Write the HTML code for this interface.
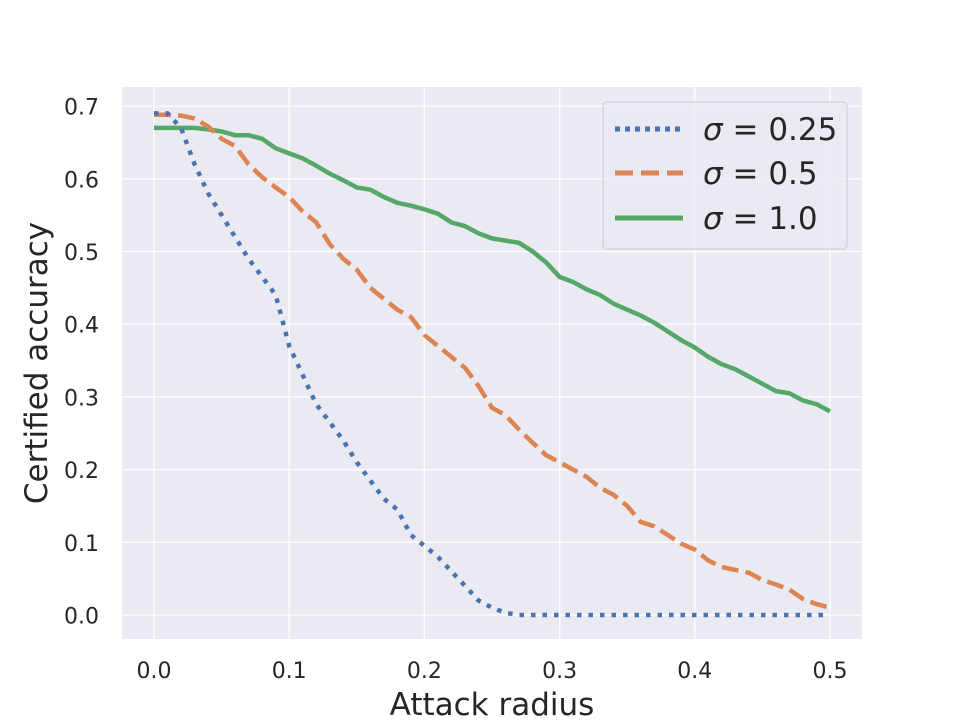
<!DOCTYPE html>
<html><head><meta charset="utf-8"><style>
body{margin:0;background:#fff;}
svg{display:block;font-family:"DejaVu Sans","Liberation Sans",sans-serif;}
</style></head><body>
<svg id="chart" width="960" height="720">
<rect x="122" y="87" width="740" height="552" fill="#eaeaf2"/>
<g id="grid"></g><g id="ticks"></g><g id="series"></g>
<text x="492" y="715" font-size="31" text-anchor="middle" fill="#262626">Attack radius</text>
<text transform="translate(47,363) rotate(-90)" font-size="31" text-anchor="middle" fill="#262626">Certified accuracy</text>
<g>
<rect x="603" y="102" width="244" height="147" rx="4" fill="#eaeaf2" fill-opacity="0.8" stroke="#cccccc"/>
<line x1="615" y1="129" x2="683" y2="129" stroke="#4c72b0" stroke-width="5" stroke-dasharray="5,5"/>
<text x="703" y="140" font-size="31" fill="#262626"><tspan font-style="italic">σ</tspan> = 0.25</text>
<line x1="615" y1="173" x2="683" y2="173" stroke="#dd8452" stroke-width="5" stroke-dasharray="18,8"/>
<text x="703" y="184" font-size="31" fill="#262626"><tspan font-style="italic">σ</tspan> = 0.5</text>
<line x1="615" y1="218" x2="683" y2="218" stroke="#55a868" stroke-width="5"/>
<text x="703" y="229" font-size="31" fill="#262626"><tspan font-style="italic">σ</tspan> = 1.0</text>
</g>
</svg>
<script>
const xTicks=[0,0.1,0.2,0.3,0.4,0.5];
const yTicks=[0,0.1,0.2,0.3,0.4,0.5,0.6,0.7];
const radii=[];for(let i=0;i<=50;i++)radii.push(i/100);
const sigma025=[0.69,0.69,0.67,0.62,0.58,0.55,0.52,0.49,0.465,0.44,0.37,0.33,0.29,0.265,0.24,0.21,0.185,0.16,0.145,0.11,0.095,0.08,0.06,0.04,0.02,0.01,0.003,0,0,0,0,0,0,0,0,0,0,0,0,0,0,0,0,0,0,0,0,0,0,0,0];
const sigma05=[0.688,0.688,0.687,0.683,0.672,0.655,0.645,0.62,0.602,0.588,0.575,0.555,0.54,0.51,0.49,0.475,0.45,0.435,0.42,0.41,0.385,0.37,0.355,0.34,0.315,0.285,0.275,0.255,0.237,0.22,0.21,0.2,0.19,0.175,0.165,0.15,0.128,0.122,0.11,0.098,0.09,0.075,0.066,0.062,0.058,0.048,0.042,0.035,0.022,0.015,0.01];
const sigma1=[0.67,0.67,0.67,0.67,0.668,0.665,0.66,0.66,0.655,0.642,0.635,0.628,0.618,0.607,0.598,0.588,0.585,0.575,0.567,0.563,0.558,0.552,0.54,0.535,0.525,0.518,0.515,0.512,0.5,0.485,0.465,0.458,0.448,0.44,0.428,0.42,0.412,0.402,0.39,0.378,0.368,0.355,0.345,0.338,0.328,0.318,0.308,0.305,0.295,0.29,0.28];
const NS="http://www.w3.org/2000/svg";
const xs=v=>154+v*1352, ys=v=>615-v*727;
function mk(tag,attrs,parent){const e=document.createElementNS(NS,tag);for(const k in attrs)e.setAttribute(k,attrs[k]);parent.appendChild(e);return e;}
const grid=document.getElementById('grid'),ticks=document.getElementById('ticks'),ser=document.getElementById('series');
xTicks.forEach(t=>{
 const l=mk('line',{x1:xs(t),x2:xs(t),y1:87,y2:639,stroke:'#fff','stroke-width':1.3},grid);
 
 
 const tx=mk('text',{x:xs(t),y:678,'font-size':22,'text-anchor':'middle',fill:'#262626'},ticks);
 tx.textContent=t.toFixed(1);
 
 
});
yTicks.forEach(t=>{
 const l=mk('line',{x1:122,x2:862,y1:ys(t),y2:ys(t),stroke:'#fff','stroke-width':1.3},grid);
 
 
 const tx=mk('text',{x:99,y:ys(t)+8.5,'font-size':22,'text-anchor':'end',fill:'#262626'},ticks);
 tx.textContent=t.toFixed(1);
 
 
});
function line(data,color,dash,name){
 const d=data.map((v,i)=>(i?'L':'M')+xs(radii[i]).toFixed(1)+','+ys(v).toFixed(1)).join('');
 const p=mk('path',{d:d,fill:'none',stroke:color,'stroke-width':4.5,'stroke-dasharray':dash},ser);
 
 
}
line(sigma1,'#55a868','none','line-sigma-1');
line(sigma05,'#dd8452','17,7','line-sigma-05');
line(sigma025,'#4c72b0','4.5,7','line-sigma-025');
</script>
</body></html>
